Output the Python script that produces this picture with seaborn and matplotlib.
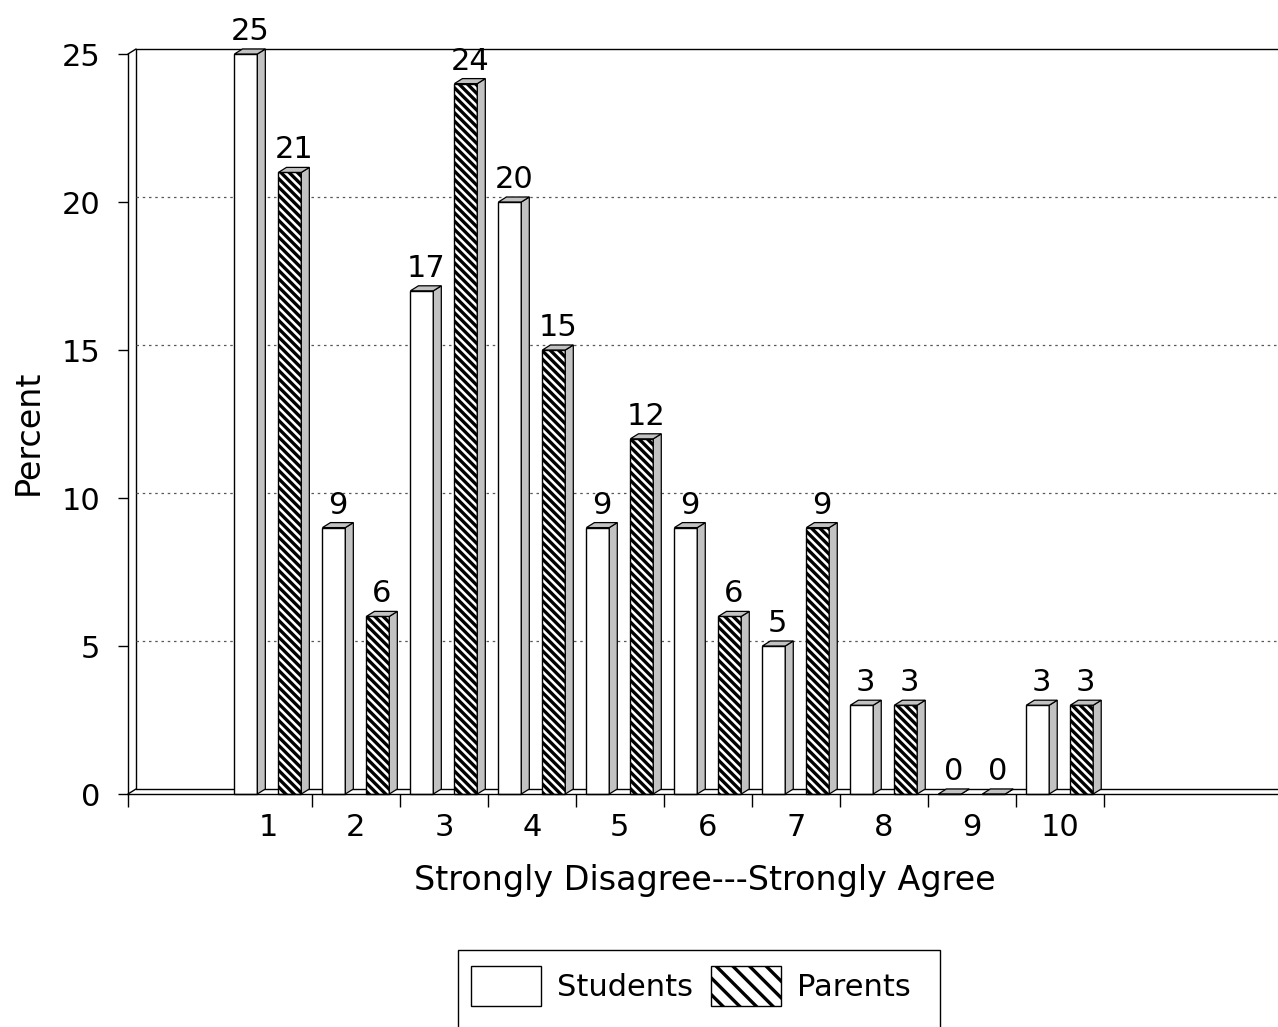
import pandas as pd
import seaborn as sns
import matplotlib.pyplot as plt
from matplotlib.patches import Polygon, Patch, Rectangle

# Survey responses on a 1-10 agreement scale
categories = ["1", "2", "3", "4", "5", "6", "7", "8", "9", "10"]
students = [25, 9, 17, 20, 9, 9, 5, 3, 0, 3]
parents = [21, 6, 24, 15, 12, 6, 9, 3, 0, 3]
series = ["Students", "Parents"]
y_ticks = [0, 5, 10, 15, 20, 25]

df = pd.DataFrame({
    "score": categories * 2,
    "percent": students + parents,
    "group": [series[0]] * len(categories) + [series[1]] * len(categories),
})

sns.set_theme(style="white")
plt.rcParams["font.family"] = ["DejaVu Sans"]
plt.rcParams["text.color"] = "black"
plt.rcParams["axes.labelcolor"] = "black"
plt.rcParams["hatch.linewidth"] = 2.4
plt.rcParams["hatch.color"] = "black"

FS = 22
FS_LAB = 24
W, H = 1278, 1027
fig = plt.figure(figsize=(W / 100, H / 100), dpi=100)
ax = fig.add_axes([128 / W, 233 / H, 1150 / W, 740 / H])

sns.barplot(data=df, x="score", y="percent", hue="group", order=categories,
            hue_order=series, palette=["white", "white"], edgecolor="black",
            linewidth=1.0, width=1.0, gap=0.48, errorbar=None, legend=False,
            ax=ax, zorder=3)

XL, XR = -1.59, 11.48
ax.set_xlim(XL, XR)
ax.set_ylim(0, 25)

# depth of the pseudo-3D extrusion, in pixels converted to data units
DX_PX, DY_PX = 8, 5
ddx = DX_PX * (XR - XL) / ax.bbox.width
ddy = DY_PX * 25 / ax.bbox.height

# back wall, floor and dotted grid
wall = dict(color="black", lw=1.0, zorder=1, clip_on=False)
ax.plot([XL + ddx, XL + ddx], [ddy, 25 + ddy], **wall)
ax.plot([XL + ddx, XR], [25 + ddy, 25 + ddy], **wall)
ax.plot([XL + ddx, XR], [ddy, ddy], **wall)
ax.plot([XL, XL + ddx], [0, ddy], **wall)
ax.plot([XL, XL + ddx], [25, 25 + ddy], **wall)
for v in y_ticks[1:-1]:
    ax.plot([XL + ddx, XR], [v + ddy, v + ddy], color="0.35", lw=0.9,
            ls=(0, (2, 3)), zorder=1, clip_on=False)

values = [students, parents]
for ci, cont in enumerate(ax.containers):
    for p, val in zip(cont.patches, values[ci]):
        p.set_clip_on(False)
        if ci == 1:
            p.set_hatch("\\\\\\\\")
        x0, w, h = p.get_x(), p.get_width(), p.get_height()
        x1 = x0 + w
        side = Polygon([(x1, 0), (x1, h), (x1 + ddx, h + ddy), (x1 + ddx, ddy)],
                       closed=True, facecolor="#c2c2c2", edgecolor="black",
                       lw=0.9, zorder=3, clip_on=False)
        top = Polygon([(x0, h), (x1, h), (x1 + ddx, h + ddy), (x0 + ddx, h + ddy)],
                      closed=True, facecolor="#c2c2c2", edgecolor="black",
                      lw=0.9, zorder=3, clip_on=False)
        ax.add_patch(side)
        ax.add_patch(top)
        ax.annotate(str(val), xy=(x0 + w / 2 + ddx / 2, h + ddy),
                    xytext=(0, 9), textcoords="offset pixels",
                    ha="center", va="baseline", fontsize=FS, color="black",
                    annotation_clip=False, zorder=5)

# axes, ticks and labels
sns.despine(ax=ax, top=True, right=True)
for s in ("left", "bottom"):
    ax.spines[s].set_color("black")
    ax.spines[s].set_linewidth(1.0)
    ax.spines[s].set_zorder(4)

ax.set_yticks(y_ticks)
ax.set_yticklabels([str(t) for t in y_ticks])
ax.tick_params(axis="y", direction="out", length=7, width=1, pad=13,
               labelsize=FS, colors="black", left=True)

ax.set_xticks([XL] + [k + 0.5 for k in range(len(categories))])
ax.set_xticklabels([])
ax.set_xticks(range(len(categories)), minor=True)
ax.set_xticklabels(categories, minor=True)
ax.tick_params(axis="x", which="major", direction="out", length=9, width=1,
               colors="black", bottom=True)
ax.tick_params(axis="x", which="minor", length=0, pad=14, labelsize=FS,
               labelcolor="black", bottom=True)

ax.set_ylabel("Percent", fontsize=FS_LAB, color="black")
ax.yaxis.set_label_coords(-0.072, 0.489)
ax.set_xlabel("Strongly Disagree---Strongly Agree", fontsize=FS_LAB,
              color="black")
ax.xaxis.set_label_coords(0.502, -0.094)

# legend box runs off the bottom edge of the page
fig.add_artist(Rectangle((458 / W, -0.05), (940 - 458) / W, 0.05 + 77 / H,
                         transform=fig.transFigure, facecolor="none",
                         edgecolor="black", lw=1.0, clip_on=False))
handles = [Patch(facecolor="white", edgecolor="black", lw=1.0),
           Patch(facecolor="white", edgecolor="black", lw=1.0, hatch="\\\\")]
leg = fig.legend(handles, series, loc="center left",
                 bbox_to_anchor=(462 / W, 1 - 986 / H), ncol=2, frameon=False,
                 fontsize=FS, handlelength=2.3, handleheight=1.6,
                 handletextpad=0.5, columnspacing=0.6, borderpad=0.3,
                 borderaxespad=0)
for t in leg.get_texts():
    t.set_color("black")

fig.savefig("out.png", dpi=100)
